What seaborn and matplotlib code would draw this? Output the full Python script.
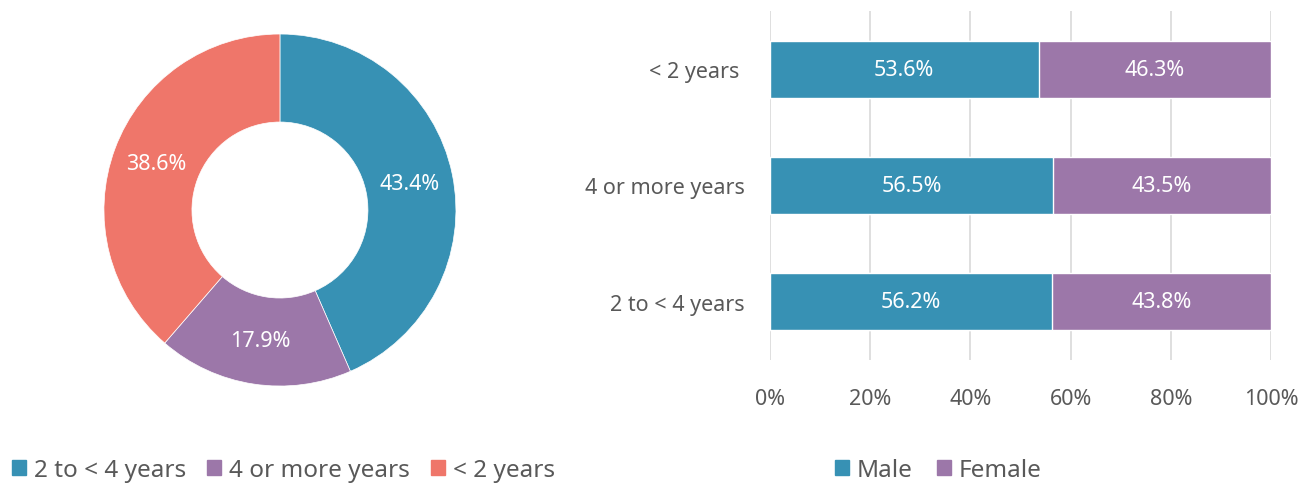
import matplotlib
matplotlib.use("Agg")
import matplotlib.pyplot as plt
import seaborn as sns
import pandas as pd
from matplotlib.patches import Patch

# donut data
tenure = ["2 to < 4 years", "4 or more years", "< 2 years"]
tenure_pct = [43.4, 17.9, 38.6]

# stacked bar data (top to bottom)
groups = ["< 2 years ", "4 or more years", "2 to < 4 years"]
male = [53.6, 56.5, 56.2]
female = [46.3, 43.5, 43.8]
ticks = [0, 20, 40, 60, 80, 100]

TEAL = "#3791b4"
PURPLE = "#9c77a9"
SALMON = "#ef766a"
GREY = "#595959"

sns.set_theme(style="white")
plt.rcParams["font.family"] = ["Noto Sans", "DejaVu Sans"]

fig = plt.figure(figsize=(13.14, 4.85), dpi=100)

# ---- donut ----
ax1 = fig.add_axes([0.0791, 0.202, 0.2679, 0.7258])
wedges, _, autotexts = ax1.pie(
    tenure_pct, colors=[TEAL, PURPLE, SALMON], startangle=90, counterclock=False,
    autopct="%.1f%%", pctdistance=0.75, radius=1.0,
    wedgeprops=dict(width=0.5, edgecolor="white", linewidth=0.5),
    textprops=dict(color="white", fontsize=15.5))
ax1.set_aspect("equal")
ax1.set_xlim(-1, 1)
ax1.set_ylim(-1, 1)

fig.legend([Patch(color=c) for c in [TEAL, PURPLE, SALMON]], tenure,
           loc="center left", bbox_to_anchor=(0.002, 0.028), ncol=3, frameon=False,
           fontsize=17.5, labelcolor=GREY, handlelength=0.58, handleheight=0.58,
           handletextpad=0.33, columnspacing=0.85, borderaxespad=0)

# ---- stacked bars ----
df = pd.DataFrame({"group": groups, "male": male, "female": female})
df["total"] = df["male"] + df["female"]

ax2 = fig.add_axes([0.586, 0.2557, 0.3813, 0.7196])
sns.barplot(data=df, y="group", x="total", color=PURPLE, width=0.49,
            saturation=1, ax=ax2, orient="h")
sns.barplot(data=df, y="group", x="male", color=TEAL, width=0.49,
            saturation=1, ax=ax2, orient="h")

for i in range(len(groups)):
    ax2.text(male[i] / 2, i, f"{male[i]:.1f}%", ha="center", va="center",
             color="white", fontsize=15.5)
    ax2.text(male[i] + female[i] / 2, i, f"{female[i]:.1f}%", ha="center",
             va="center", color="white", fontsize=15.5)

ax2.set_xlim(0, 100)
ax2.set_ylim(2.5, -0.5)
ax2.set_xticks(ticks)
ax2.set_xticklabels([f"{t}%" for t in ticks])
ax2.set_xlabel("")
ax2.set_ylabel("")
ax2.xaxis.grid(True, color="#d9d9d9", linewidth=1.2)
ax2.set_axisbelow(True)
sns.despine(ax=ax2, left=True, bottom=True)
ax2.tick_params(axis="x", length=0, pad=20, labelsize=15.5, labelcolor=GREY)
ax2.tick_params(axis="y", length=0, pad=18, labelsize=15.5, labelcolor=GREY)

fig.legend([Patch(color=TEAL), Patch(color=PURPLE)], ["Male", "Female"],
           loc="center", bbox_to_anchor=(0.714, 0.028), ncol=2, frameon=False,
           fontsize=17.5, labelcolor=GREY, handlelength=0.58, handleheight=0.58,
           handletextpad=0.33, columnspacing=1.0, borderaxespad=0)

fig.savefig("out.png", dpi=100)
